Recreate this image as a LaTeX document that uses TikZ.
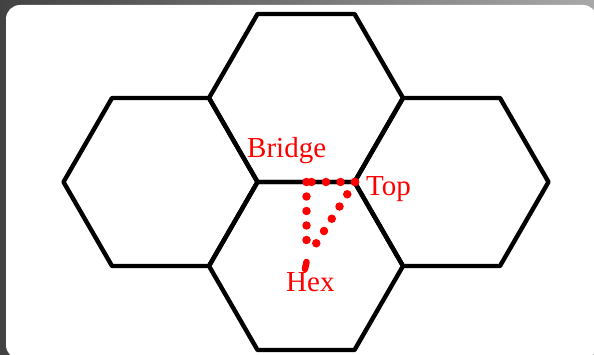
\documentclass[tikz,border=0pt]{standalone}
\usepackage{fontspec}
\setmainfont{Liberation Serif}
\usetikzlibrary{calc}
\definecolor{framedark}{RGB}{66,66,66}
\definecolor{framelight}{RGB}{168,168,168}
\definecolor{labelred}{RGB}{255,0,0}
\begin{document}
\begin{tikzpicture}[x=1pt,y=-1pt,
  hexline/.style={line width=4.4pt, line join=round, black},
  reddots/.style={labelred, line width=8.5pt, line cap=round, dash pattern=on 0pt off 14.5pt},
  lbl/.style={labelred, font=\fontsize{29}{32}\selectfont, inner sep=0pt, anchor=base west}]
\useasboundingbox (0,0) rectangle (594,355);
\shade[left color=framedark, right color=framelight] (0,0) rectangle (594,355);
\fill[white, rounded corners=14pt] (6,5) rectangle (597,359);
% hexagon centres
\coordinate (hl) at (160.5,182);
\coordinate (ht) at (306,98);
\coordinate (hc) at (306,266);
\coordinate (hr) at (451.5,182);
\foreach \c in {hl,ht,hc,hr}{
  \draw[hexline] ($(\c)+(-97,0)$) -- ++(48.5,-84) -- ++(97,0) -- ++(48.5,84)
     -- ++(-48.5,84) -- ++(-97,0) -- cycle;
}
% labels
\node[lbl] (bridge) at (247,158) {Bridge};
\node[lbl] (top) at (366,196) {Top};
\node[lbl] (hex) at (286,291) {Hex};
% connector points
\coordinate (pb) at (306.5,182);
\coordinate (pt) at (355,182);
\coordinate (ph) at (306.5,250);
\coordinate (pd) at (312,250);
\coordinate (pe) at (305,269);
\draw[reddots] (pt) -- (pb);
\draw[reddots] (pb) -- (ph);
\draw[reddots] (pt) -- (pd);
\draw[labelred, line width=6.5pt, line cap=round] (306.5,262) -- (pe);
\end{tikzpicture}
\end{document}
